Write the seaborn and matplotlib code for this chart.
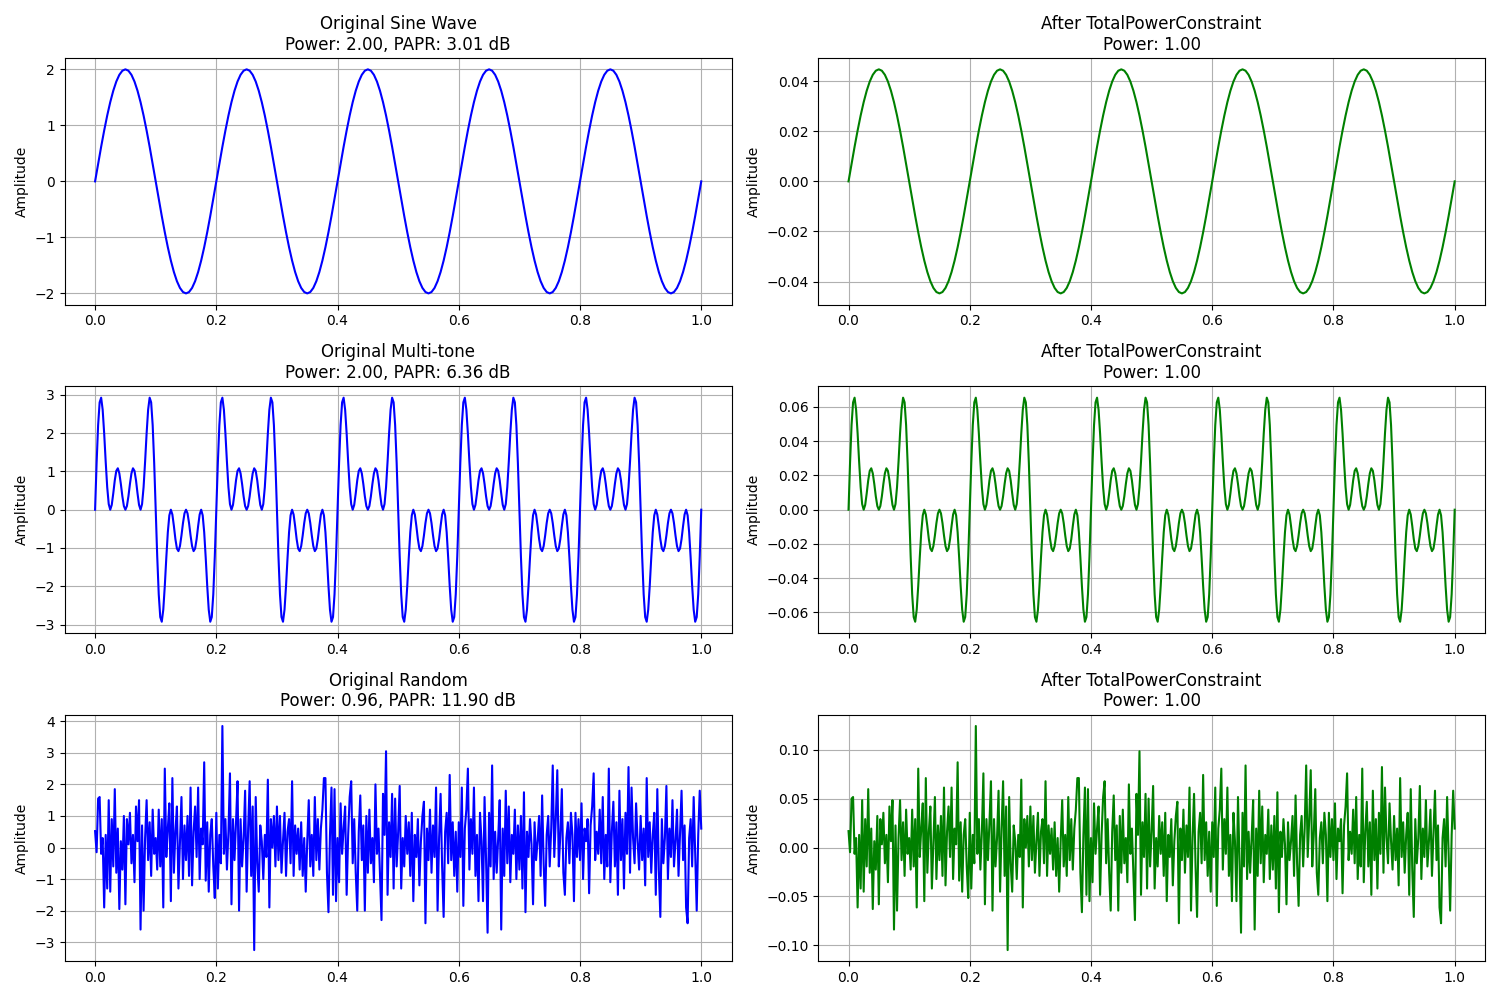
import numpy as np
import matplotlib
matplotlib.use("Agg")
import matplotlib.pyplot as plt
import seaborn as sns

# ──────────────────────────────
# Data
# ──────────────────────────────
N_PERIODS = 5

# one period of the sine wave (40 samples), amplitude 2
sine_period = [
    0.0, 0.3129, 0.6180, 0.9080, 1.1756, 1.4142, 1.6180, 1.7820, 1.9021, 1.9754,
    2.0, 1.9754, 1.9021, 1.7820, 1.6180, 1.4142, 1.1756, 0.9080, 0.6180, 0.3129,
    0.0, -0.3129, -0.6180, -0.9080, -1.1756, -1.4142, -1.6180, -1.7820, -1.9021, -1.9754,
    -2.0, -1.9754, -1.9021, -1.7820, -1.6180, -1.4142, -1.1756, -0.9080, -0.6180, -0.3129,
]

# one period of the multi-tone signal (80 samples)
multitone_period = [
    0.0, 1.217, 2.209, 2.804, 2.927, 2.613, 1.992, 1.253, 0.588, 0.147,
    0.0, 0.126, 0.427, 0.768, 1.015, 1.082, 0.951, 0.673, 0.350, 0.096,
    0.0, 0.096, 0.350, 0.673, 0.951, 1.082, 1.015, 0.768, 0.427, 0.126,
    0.0, 0.147, 0.588, 1.253, 1.992, 2.613, 2.927, 2.804, 2.209, 1.217,
    0.0, -1.217, -2.209, -2.804, -2.927, -2.613, -1.992, -1.253, -0.588, -0.147,
    0.0, -0.126, -0.427, -0.768, -1.015, -1.082, -0.951, -0.673, -0.350, -0.096,
    0.0, -0.096, -0.350, -0.673, -0.951, -1.082, -1.015, -0.768, -0.427, -0.126,
    0.0, -0.147, -0.588, -1.253, -1.992, -2.613, -2.927, -2.804, -2.209, -1.217,
]

# random signal, 401 samples over [0, 1]
random_values = [
    0.52, -0.15, 1.55, 1.6, -0.2, 0.3, -1.9, 0.4, -1.3, 1.5, -1.4, 0.9, -0.6, 1.85, -0.8, 0.6, -1.95, 0.2, -0.7, 1.0,
    -1.8, 0.9, 0.1, 1.1, -0.5, 0.4, -1.1, 1.3, 0.2, 1.5, -2.6, 0.7, -2.0, 0.3, 1.5, -0.4, 0.8, -0.9, 1.2, -0.2,
    0.3, -0.7, 1.2, -0.6, 0.9, -1.9, 2.5, -0.3, 0.6, 1.4, -1.7, 2.2, -0.8, 0.5, 1.3, -1.3, 0.2, 1.6, -1.0, 0.7,
    -0.4, 1.0, -0.9, 1.9, -1.2, 0.5, 1.3, -0.3, 1.9, -1.0, 0.6, 0.1, 2.7, -1.05, 0.8, -1.4, 0.4, 0.9, -0.6, -1.6,
    1.1, -1.3, 0.4, -0.5, 3.85, -0.2, 0.9, -0.7, 0.5, 2.35, -1.8, 0.9, -0.4, 0.8, 2.1, -2.0, 0.9, -0.6, 0.3, 1.8,
    -1.4, 0.6, 2.1, -0.9, 1.3, -3.25, 1.6, -0.5, -1.4, 0.7, 0.2, -1.0, 0.4, -0.3, 2.15, -1.9, 0.9, 0.0, 1.0, -0.6,
    1.3, -0.4, 1.0, -0.8, 0.2, 1.1, -0.9, 0.5, 0.9, -0.5, 2.1, -0.9, 0.7, -0.2, 0.6, -0.7, 0.8, -0.9, 0.3, -1.4,
    0.2, 1.5, -0.6, 0.4, -0.9, 1.6, -0.4, 0.9, -0.7, 0.6, 1.2, 2.2, 2.2, -0.8, -2.05, 0.4, 1.9, -1.5, 1.85, -1.7,
    0.3, -1.1, 1.4, -0.2, 0.6, 1.3, -1.5, 0.4, 1.6, 2.1, -0.5, 0.9, -0.8, -2.0, 0.5, 1.65, -0.4, 0.7, -2.0, 1.0,
    -0.8, 1.2, -0.5, 0.3, -1.1, 2.0, -0.2, 0.6, -0.9, -2.3, 1.7, 0.4, 3.05, -1.5, 0.8, -0.3, 1.7, -1.3, 1.55, -0.6,
    0.5, 1.95, -1.3, 0.3, -0.6, 1.0, -0.2, 0.8, -0.9, 1.1, -1.7, 0.4, -0.3, 0.9, -1.2, 0.2, 1.0, 1.45, -2.4, 0.6,
    -0.4, 1.2, -0.8, 0.7, -0.3, 1.9, -2.0, 0.3, 1.7, -0.6, -2.2, 0.5, 1.1, -0.5, 2.3, -0.4, 0.8, -0.9, 0.5, -1.4,
    0.8, -0.3, 1.9, -1.85, 0.6, 1.2, 2.5, -0.7, 0.9, -0.2, 1.9, -0.9, 0.4, -1.7, 1.1, 0.2, -1.7, 1.6, -0.4, -2.7,
    1.1, -0.6, 2.6, -1.0, 0.5, -0.8, 0.3, 1.5, -2.6, 0.6, -0.9, 1.8, -0.5, 1.3, -1.1, 0.4, -0.2, 1.2, -1.0, 0.7,
    -0.7, 1.0, -1.3, 1.75, -2.05, 0.5, -0.3, 0.9, 0.1, -1.8, 0.8, -0.4, 0.2, 1.0, -0.9, 1.65, -0.5, -1.85, 0.4, 1.0,
    -0.6, 0.6, 2.6, -0.3, 0.9, 2.45, -0.6, 0.4, 1.85, -0.8, -1.5, 0.3, 0.8, -0.5, 1.1, 0.4, -1.7, 1.1, -0.3, 0.9,
    -0.4, 1.4, -1.0, 0.6, 0.2, 0.9, -1.45, 0.7, 1.3, 2.35, -0.4, 0.5, -0.2, 1.2, -0.5, 1.6, -1.0, 0.4, -0.6, 2.5,
    -1.1, 0.5, 1.45, -0.6, 0.8, -1.5, 1.8, -0.4, 0.9, -1.3, 1.1, -0.2, 2.55, -0.8, 1.9, 0.3, -0.5, 1.4, 0.2, -0.7,
    1.0, -0.4, 0.6, -1.2, 2.2, -0.3, 0.8, -0.8, 0.4, 1.1, -1.5, 1.85, -0.7, -2.2, 0.9, -0.5, 0.3, 1.95, -1.0, 0.6,
    -0.3, 1.5, -0.6, 0.2, 1.2, -0.9, 0.5, 1.8, -0.4, 0.7, -1.9, -2.4, 0.3, 0.9, -0.6, 1.6, -0.2, -2.0, 0.4, 1.8,
    0.6,
]

# power-constraint scale factors (peak after / peak before, from the right column)
sine_scale = 0.02236
multitone_scale = 0.02236
random_scale = 0.03227

left_titles = [
    "Original Sine Wave\nPower: 2.00, PAPR: 3.01 dB",
    "Original Multi-tone\nPower: 2.00, PAPR: 6.36 dB",
    "Original Random\nPower: 0.96, PAPR: 11.90 dB",
]
right_title = "After TotalPowerConstraint\nPower: 1.00"

# ──────────────────────────────
# Build signals
# ──────────────────────────────
sine = np.concatenate([np.tile(sine_period, N_PERIODS), [0.0]])
multitone = np.concatenate([np.tile(multitone_period, N_PERIODS), [0.0]])
rand = np.array(random_values)

signals = [
    (sine, sine * sine_scale),
    (multitone, multitone * multitone_scale),
    (rand, rand * random_scale),
]

# ──────────────────────────────
# Plot
# ──────────────────────────────
fig, axs = plt.subplots(3, 2, figsize=(15, 10))

for i, (orig, constrained) in enumerate(signals):
    t = np.linspace(0, 1, len(orig))
    ax = axs[i, 0]
    sns.lineplot(x=t, y=orig, color="blue", linewidth=1.5, ax=ax)
    ax.set_title(left_titles[i])
    ax.set_ylabel("Amplitude")
    ax.grid(True)

    ax = axs[i, 1]
    sns.lineplot(x=t, y=constrained, color="green", linewidth=1.5, ax=ax)
    ax.set_title(right_title)
    ax.set_ylabel("Amplitude")
    ax.grid(True)

plt.tight_layout()
plt.savefig("out.png", dpi=100)
plt.close(fig)
